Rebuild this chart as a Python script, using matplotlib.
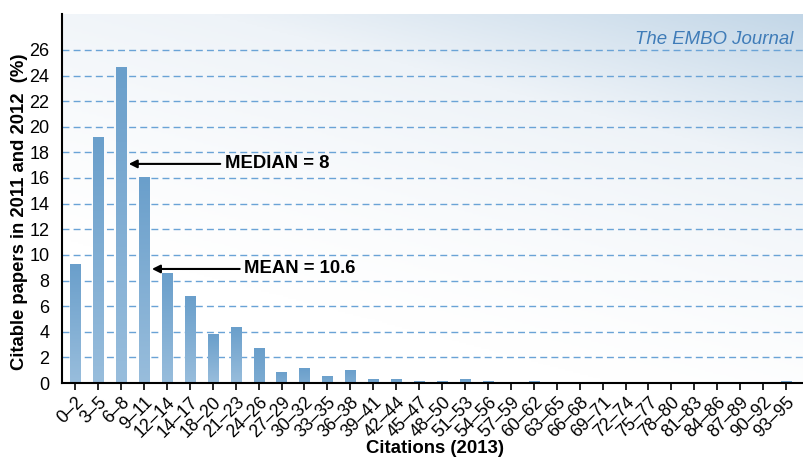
import numpy as np
import matplotlib
matplotlib.use("Agg")
import matplotlib.pyplot as plt
from matplotlib.colors import LinearSegmentedColormap

# citation ranges (2013) and share of citable papers (%)
categories = ["0–2", "3–5", "6–8", "9–11", "12–14", "14–17", "18–20", "21–23",
              "24–26", "27–29", "30–32", "33–35", "36–38", "39–41", "42–44",
              "45–47", "48–50", "51–53", "54–56", "57–59", "60–62", "63–65",
              "66–68", "69–71", "72–74", "75–77", "78–80", "81–83", "84–86",
              "87–89", "90–92", "93–95"]
percent = [9.3, 19.2, 24.7, 16.1, 8.6, 6.8, 3.8, 4.35, 2.7, 0.86, 1.17, 0.57,
           1.02, 0.31, 0.31, 0.18, 0.18, 0.3, 0.18, 0.0, 0.18, 0.0, 0.0, 0.0,
           0.0, 0.0, 0.0, 0.0, 0.0, 0.0, 0.0, 0.18]
yticks = list(range(0, 27, 2))

median_val = 8
mean_val = 10.6

plt.rcParams["font.family"] = ["Liberation Sans", "DejaVu Sans"]

fig = plt.figure(figsize=(8.04, 4.57), dpi=100)
ax = fig.add_axes([62 / 804, (457 - 383) / 457, 1 - 62 / 804, (383 - 14) / 457])

x = np.arange(len(categories))
xmin, xmax = -0.57, 31.78
ymin, ymax = 0, 28.8
ax.set_xlim(xmin, xmax)
ax.set_ylim(ymin, ymax)

# diagonal background gradient: light blue top-right, white lower-left
gx, gy = np.meshgrid(np.linspace(0, 1, 300), np.linspace(0, 1, 200))
g = np.clip(0.8 * gy + 0.42 * gx - 0.3, 0, 1) ** 1.3
bg_cmap = LinearSegmentedColormap.from_list("bg", ["#ffffff", "#eef3f8", "#b7cfe3"])
ax.imshow(g, cmap=bg_cmap, origin="lower", aspect="auto",
          extent=(xmin, xmax, ymin, ymax), zorder=0, vmin=0, vmax=1)

for yv in yticks[1:]:
    ax.axhline(yv, color="#6aa3d6", lw=1.0, ls=(0, (5, 3)), zorder=1)

# bars with a vertical gradient, darker at the top of each bar
bar_cmap = LinearSegmentedColormap.from_list("bar", ["#98bddc", "#6a9fcb"])
bars = ax.bar(x, percent, width=0.44, color="#6a9fcb", zorder=2)
grad = np.linspace(0, 1, 100).reshape(-1, 1)
for b, v in zip(bars, percent):
    if v <= 0:
        continue
    lo = 0.0 if v > 3 else 0.6
    im = ax.imshow(grad * (1 - lo) + lo, cmap=bar_cmap, origin="lower",
                   aspect="auto", vmin=0, vmax=1,
                   extent=(b.get_x(), b.get_x() + b.get_width(), 0, v),
                   zorder=3)
    im.set_clip_path(b)
ax.set_xlim(xmin, xmax)
ax.set_ylim(ymin, ymax)

ax.annotate("", xy=(2.22, 17.1), xytext=(6.45, 17.1),
            arrowprops=dict(arrowstyle="-|>", color="black", lw=1.5,
                            mutation_scale=12), zorder=5)
ax.text(6.54, 17.1, f"MEDIAN = {median_val}", fontsize=13.3, fontweight="bold",
        va="center", ha="left", zorder=5)
ax.annotate("", xy=(3.23, 8.9), xytext=(7.3, 8.9),
            arrowprops=dict(arrowstyle="-|>", color="black", lw=1.5,
                            mutation_scale=12), zorder=5)
ax.text(7.37, 8.9, f"MEAN = {mean_val}", fontsize=13.3, fontweight="bold",
        va="center", ha="left", zorder=5)

ax.text(0.986, 0.955, "The EMBO Journal", transform=ax.transAxes,
        fontsize=13.4, style="italic", color="#3f7cb8", ha="right", va="top",
        zorder=5)

ax.set_yticks(yticks)
ax.set_yticklabels([str(v) for v in yticks], fontsize=13)
ax.tick_params(axis="y", length=0, pad=9)
ax.set_xticks(x)
ax.set_xticklabels(categories, rotation=45, ha="right", rotation_mode="anchor",
                   fontsize=12.8)
ax.tick_params(axis="x", length=5, width=1.2, direction="out", pad=3)

for side in ["top", "right"]:
    ax.spines[side].set_visible(False)
for side in ["left", "bottom"]:
    ax.spines[side].set_linewidth(1.5)
    ax.spines[side].set_zorder(6)

ax.set_ylabel("Citable papers in 2011 and 2012  (%)", fontsize=13.3,
              fontweight="bold")
ax.yaxis.set_label_coords(-0.046, 0.465)
ax.set_xlabel("Citations (2013)", fontsize=13.4, fontweight="bold")
ax.xaxis.set_label_coords(0.503, -0.155)

fig.savefig("out.png", dpi=100)
